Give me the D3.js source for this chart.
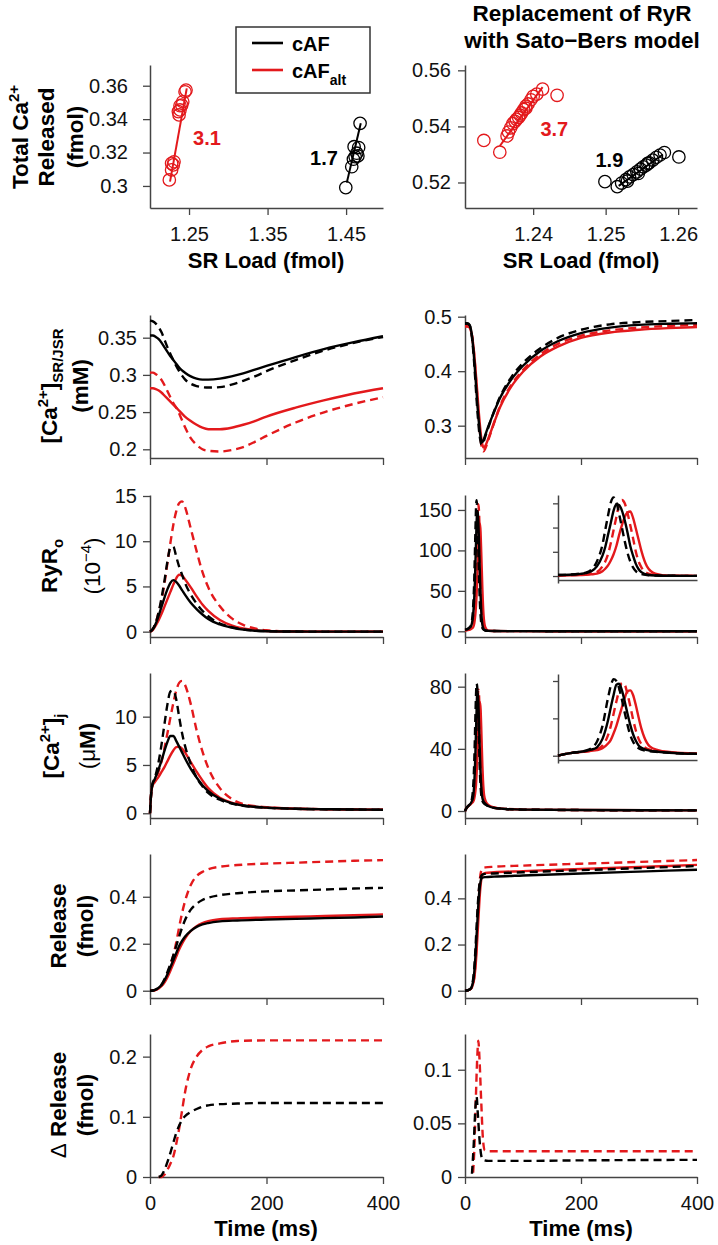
<!DOCTYPE html>
<html><head><meta charset="utf-8">
<script src="https://cdn.jsdelivr.net/npm/d3@7"></script>
<style>html,body{margin:0;padding:0;background:#fff;} svg{display:block;}</style>
</head><body>
<script>
// ---------------- DATA ----------------
// Scatter: SR load vs total Ca released
const scL_cAF_load = [1.4496, 1.4572, 1.4593, 1.4615, 1.4636, 1.4602, 1.4650, 1.4660, 1.4678];
const scL_cAF_rel  = [0.2990, 0.3115, 0.3160, 0.3175, 0.3196, 0.3235, 0.3180, 0.3230, 0.3375];
const scL_alt_load = [1.2249, 1.2278, 1.2300, 1.2309, 1.2278, 1.2364, 1.2373, 1.2385, 1.2407, 1.2420, 1.2385, 1.2449, 1.2462];
const scL_alt_rel  = [0.3036, 0.3096, 0.3126, 0.3145, 0.3135, 0.3445, 0.3425, 0.3455, 0.3484, 0.3504, 0.3480, 0.3564, 0.3574];
const scL_cAF_fitX = [1.4509, 1.4687], scL_cAF_fitY = [0.3020, 0.3375];
const scL_alt_fitX = [1.2258, 1.2471], scL_alt_fitY = [0.3026, 0.3584];
const scR_cAF_load = [1.2499,1.2516,1.2522,1.2528,1.2530,1.2533,1.2538,1.2543,1.2545,1.2548,1.2552,1.2556,1.2558,1.2560,1.2565,1.2570,1.2575,1.2581,1.2601];
const scR_cAF_rel  = [0.5203,0.5185,0.5198,0.5210,0.5205,0.5220,0.5228,0.5238,0.5232,0.5248,0.5256,0.5262,0.5268,0.5270,0.5280,0.5290,0.5298,0.5307,0.5291];
const scR_alt_load = [1.2332,1.2354,1.2364,1.2366,1.2369,1.2372,1.2375,1.2377,1.2380,1.2382,1.2384,1.2387,1.2390,1.2390,1.2393,1.2397,1.2400,1.2405,1.2413,1.2433];
const scR_alt_rel  = [0.5350,0.5308,0.5366,0.5380,0.5395,0.5410,0.5418,0.5425,0.5432,0.5440,0.5448,0.5460,0.5465,0.5472,0.5480,0.5495,0.5507,0.5515,0.5533,0.5511];
const scR_cAF_fitX = [1.2518, 1.2579], scR_cAF_fitY = [0.5188, 0.5300];
const scR_alt_fitX = [1.2354, 1.2413], scR_alt_fitY = [0.5330, 0.5540];
const gainLabels = ["3.1", "1.7", "3.7", "1.9"];

// Tick values
const timeTicks = [0, 200, 400];
const scL_xTicks = [1.25, 1.35, 1.45], scL_yTicks = [0.3, 0.32, 0.34, 0.36];
const scR_xTicks = [1.24, 1.25, 1.26], scR_yTicks = [0.52, 0.54, 0.56];

// Left column (cAF models) time grids & series
const tL = [0,5,10,15,20,25,30,35,40,45,50,55,60,70,80,90,100,120,140,160,180,200,250,300,350,400];
const srL_cAF     = [0.353,0.353,0.351,0.348,0.343,0.337,0.331,0.325,0.320,0.315,0.310,0.306,0.303,0.298,0.295,0.2937,0.2937,0.295,0.298,0.302,0.307,0.312,0.324,0.335,0.344,0.352];
const srL_cAF_d   = [0.373,0.372,0.369,0.364,0.357,0.347,0.337,0.328,0.320,0.312,0.305,0.299,0.294,0.288,0.285,0.2835,0.283,0.2835,0.287,0.292,0.298,0.305,0.320,0.333,0.343,0.351];
const srL_alt     = [0.282,0.282,0.281,0.279,0.276,0.272,0.268,0.264,0.260,0.256,0.252,0.248,0.244,0.238,0.233,0.229,0.227,0.227,0.229,0.233,0.238,0.244,0.256,0.266,0.275,0.282];
const srL_alt_d   = [0.303,0.303,0.301,0.298,0.293,0.286,0.278,0.270,0.262,0.256,0.248,0.239,0.230,0.215,0.206,0.200,0.198,0.197,0.199,0.203,0.210,0.218,0.236,0.250,0.261,0.270];
const ryL_cAF     = [0,0.3,0.9,1.8,2.8,3.8,4.7,5.4,5.7,5.5,5.1,4.6,4.1,3.2,2.5,1.9,1.4,0.8,0.45,0.22,0.1,0.05,0.01,0,0,0];
const ryL_cAF_d   = [0,0.3,1.0,2.2,3.8,5.7,7.8,9.3,9.4,8.3,7.2,6.3,5.4,4.1,3.1,2.3,1.7,0.9,0.5,0.25,0.12,0.06,0.01,0,0,0];
const ryL_alt     = [0,0.2,0.7,1.3,2.0,2.8,3.6,4.4,5.2,5.9,6.3,6.2,5.8,4.9,3.9,3.0,2.3,1.3,0.7,0.35,0.17,0.08,0.01,0,0,0];
const ryL_alt_d   = [0,0.3,1.0,2.2,3.5,5.4,7.6,9.8,11.8,13.3,14.2,14.4,13.8,11.4,8.9,6.6,4.9,2.8,1.5,0.75,0.35,0.15,0.02,0,0,0];
const tJ = [0,2,4,8,15,20,25,30,35,40,45,50,55,60,70,80,90,100,120,140,160,200,250,300,350,400];
const cjL_cAF     = [0,2.0,2.9,3.5,4.6,5.5,6.5,7.4,8.0,8.0,7.5,6.9,6.3,5.7,4.6,3.7,2.9,2.3,1.5,1.05,0.8,0.58,0.47,0.42,0.39,0.37];
const cjL_cAF_d   = [0,2.0,3.0,3.6,5.4,7.2,9.3,11.3,12.6,12.7,11.8,10.0,8.3,7.0,5.1,3.7,2.8,2.1,1.4,1.0,0.78,0.57,0.46,0.41,0.39,0.37];
const cjL_alt     = [0,2.0,2.8,3.2,3.8,4.3,4.8,5.4,6.0,6.5,6.85,6.9,6.7,6.3,5.3,4.3,3.4,2.6,1.6,1.1,0.82,0.59,0.47,0.42,0.39,0.37];
const cjL_alt_d   = [0,2.0,2.9,3.4,4.4,5.4,6.8,8.3,9.9,11.4,12.7,13.5,13.7,13.3,11.3,8.6,6.4,4.7,2.6,1.5,0.95,0.62,0.48,0.42,0.39,0.37];
const tRel = [0,5,10,15,20,25,30,35,40,45,50,55,60,70,80,90,100,120,150,200,250,300,350,400];
const relL_cAF    = [0,0.001,0.005,0.013,0.025,0.045,0.07,0.1,0.13,0.16,0.19,0.212,0.23,0.255,0.272,0.282,0.288,0.295,0.299,0.303,0.306,0.309,0.312,0.316];
const relL_cAF_d  = [0,0.001,0.005,0.013,0.027,0.05,0.08,0.113,0.15,0.19,0.23,0.268,0.3,0.345,0.37,0.386,0.396,0.407,0.415,0.423,0.427,0.431,0.435,0.438];
const relL_alt    = [0,0.001,0.004,0.01,0.02,0.036,0.058,0.085,0.115,0.145,0.175,0.2,0.222,0.254,0.275,0.288,0.296,0.304,0.308,0.312,0.315,0.318,0.321,0.325];
const relL_alt_d  = [0,0.001,0.004,0.01,0.022,0.042,0.072,0.11,0.15,0.205,0.27,0.33,0.38,0.45,0.488,0.506,0.517,0.528,0.535,0.541,0.545,0.549,0.553,0.556];
const tD = [15,20,25,30,35,40,45,50,55,60,70,80,90,100,120,150,200,250,300,350,400];
const dRelL_cAF   = [0,0.003,0.012,0.025,0.04,0.057,0.073,0.085,0.095,0.101,0.108,0.113,0.117,0.119,0.121,0.122,0.123,0.123,0.123,0.123,0.123];
const dRelL_alt   = [0,0,0.004,0.012,0.022,0.034,0.055,0.08,0.11,0.14,0.18,0.2,0.211,0.217,0.222,0.226,0.227,0.227,0.227,0.227,0.227];

// Right column (Sato-Bers RyR) time grids & series
const tS = [0,4,8,10,12,14,16,18,20,22,24,26,28,30,32,35,40,50,60,80,100,130,160,200,250,300,350,400];
const srR_cAF     = [0.488,0.488,0.485,0.478,0.465,0.445,0.42,0.39,0.36,0.33,0.305,0.285,0.272,0.27,0.274,0.283,0.298,0.325,0.35,0.385,0.41,0.437,0.455,0.47,0.48,0.485,0.487,0.488];
const srR_cAF_d   = [0.487,0.487,0.484,0.477,0.462,0.44,0.412,0.38,0.348,0.318,0.293,0.276,0.266,0.265,0.27,0.28,0.296,0.326,0.352,0.389,0.415,0.442,0.461,0.476,0.486,0.49,0.492,0.494];
const srR_alt     = [0.482,0.482,0.48,0.475,0.465,0.45,0.43,0.405,0.378,0.35,0.322,0.298,0.278,0.265,0.26,0.263,0.276,0.305,0.333,0.372,0.399,0.427,0.445,0.461,0.471,0.476,0.479,0.481];
const srR_alt_d   = [0.483,0.483,0.481,0.476,0.466,0.45,0.428,0.4,0.37,0.34,0.31,0.285,0.266,0.255,0.253,0.258,0.273,0.305,0.335,0.375,0.402,0.431,0.45,0.465,0.475,0.48,0.483,0.485];
const tP = [0,5,8,10,12,14,16,17,18,19,20,21,22,23,24,25,26,27,28,29,30,32,35,40,50,100,200,400];
const ryR_cAF     = [2,3,4.5,6,10,20,42,60,85,110,135,148,146,135,115,90,62,42,25,14,8,3,1,0.5,0.3,0.2,0.1,0.1];
const ryR_cAF_d   = [2,3,5,7,13,30,65,95,125,152,162,152,128,100,72,48,30,18,10,6,4,2,1,0.5,0.3,0.2,0.1,0.1];
const ryR_alt     = [1,1.5,2,2.5,3.5,5,10,15,22,32,45,62,85,105,122,131,133,120,98,75,52,20,5,0.8,0.3,0.2,0.1,0.1];
const ryR_alt_d   = [1,2,2.5,3,5,8,20,30,45,68,95,122,148,157,150,130,105,78,50,30,18,6,2,0.5,0.3,0.2,0.1,0.1];
const tC = [0,2,5,10,12,14,16,18,19,20,21,22,23,24,25,26,27,28,29,30,31,33,36,40,50,70,100,200,400];
const cjR_cAF     = [0,1.5,3,5,6.5,9,18,38,52,65,76,77,70,58,45,33,23,16,11,8.5,7,5.5,4.3,3.2,2.0,1.3,0.9,0.6,0.4];
const cjR_cAF_d   = [0,1.5,3,5.5,8,15,32,62,75,82,80,72,60,46,33,22,15,10.5,8,6.5,5.7,4.8,4,3.1,2.0,1.3,0.9,0.6,0.4];
const cjR_alt     = [0,1.5,3,4.5,5.2,6,8,13,17,24,32,42,52,62,69,70,65,54,41,29,20,10,6,4,2.3,1.4,0.9,0.6,0.4];
const cjR_alt_d   = [0,1.5,3,4.5,5.5,7,11,22,32,45,58,70,78,76,66,53,39,27,18,12.5,9.5,6.5,5,3.4,2.1,1.3,0.9,0.6,0.4];
const tRR = [0,5,10,12,14,16,18,20,22,24,26,28,30,35,50,100,200,300,400];
const relR_cAF    = [0,0.002,0.01,0.02,0.04,0.08,0.15,0.24,0.33,0.41,0.46,0.485,0.49,0.492,0.494,0.499,0.508,0.516,0.524];
const relR_cAF_d  = [0,0.002,0.01,0.022,0.05,0.1,0.18,0.28,0.37,0.44,0.48,0.498,0.503,0.506,0.508,0.513,0.522,0.531,0.54];
const relR_alt    = [0,0.002,0.008,0.015,0.03,0.055,0.1,0.17,0.26,0.35,0.43,0.48,0.502,0.51,0.513,0.518,0.527,0.536,0.545];
const relR_alt_d  = [0,0.002,0.008,0.016,0.032,0.06,0.12,0.21,0.33,0.43,0.49,0.52,0.53,0.534,0.537,0.542,0.55,0.558,0.566];
const tDb = [12,15,18,20,22,25,28,31,40,100,200,400];
const dRelR_cAF   = [0.003,0.03,0.065,0.075,0.06,0.035,0.02,0.016,0.015,0.015,0.0155,0.016];
const tDr = [14,16,18,21,23,25,28,31,34,40,100,200,400];
const dRelR_alt   = [0.004,0.025,0.06,0.11,0.127,0.11,0.07,0.035,0.025,0.024,0.024,0.024,0.024];

// ---------------- DRAWING ----------------
const FONT = "'Liberation Sans', Arial, Helvetica, sans-serif";
const RED = "#e3191c", BLK = "#000000", AX = "#444444";
const svg = d3.select('body').append('svg').attr('width', 718).attr('height', 1245).style('background', '#fff');

const LX = [150, 383], RX = [465, 697];

function drawAxes(x, y, o) {
  const g = svg.append('g');
  const ya = g.append('g').attr('transform', `translate(${x.range()[0]},0)`)
    .call(d3.axisLeft(y).tickValues(o.yTicks).tickSize(o.ts || 7).tickSizeOuter(0)
      .tickPadding(o.yPad ?? 6).tickFormat(o.noYLabels ? () => '' : d => String(d)));
  const xa = g.append('g').attr('transform', `translate(0,${o.xAxisY ?? y.range()[0]})`)
    .call(d3.axisBottom(x).tickValues(o.xTicks || []).tickSize(7).tickSizeOuter(0)
      .tickPadding(12).tickFormat(o.xLabels ? d => String(d) : () => ''));
  [ya, xa].forEach(a => {
    a.attr('font-size', 20).attr('font-family', FONT);
    a.select('.domain').attr('stroke', AX).attr('stroke-width', 1.5);
    a.selectAll('.tick line').attr('stroke', AX).attr('stroke-width', 1.3);
    a.selectAll('.tick text').attr('fill', '#111');
  });
  return g;
}

function drawCurve(x, y, ts, vs, color, dashed, maxT) {
  let pts = d3.zip(ts, vs);
  if (maxT !== undefined) pts = pts.filter(p => p[0] <= maxT);
  svg.append('path').datum(pts)
    .attr('fill', 'none').attr('stroke', color).attr('stroke-width', 2.4)
    .attr('stroke-dasharray', dashed ? '8,5' : null)
    .attr('stroke-linejoin', 'round')
    .attr('d', d3.line().curve(d3.curveMonotoneX).x(p => x(p[0])).y(p => y(p[1])));
}

function rotLabel(bx, cy, parts) {
  const t = svg.append('text').attr('transform', `translate(${bx},${cy}) rotate(-90)`)
    .attr('text-anchor', 'middle').attr('font-family', FONT).attr('font-weight', 'bold')
    .attr('font-size', 22.5).attr('fill', '#000');
  parts.forEach(p => {
    const s = t.append('tspan').text(p.t);
    if (p.size) s.attr('font-size', p.size);
    if (p.dy) s.attr('dy', p.dy);
    if (p.w) s.attr('font-weight', p.w);
  });
}

// ---- Scatter panels ----
const scY = [65, 208];
const sxL = d3.scaleLinear([1.2003, 1.497], LX);
const syL = d3.scaleLinear([0.2868, 0.3724], [scY[1], scY[0]]);
drawAxes(sxL, syL, {xTicks: scL_xTicks, yTicks: scL_yTicks, xLabels: true, yPad: 15});
const sxR = d3.scaleLinear([1.2306, 1.2626], RX);
const syR = d3.scaleLinear([0.5109, 0.5619], [scY[1], scY[0]]);
drawAxes(sxR, syR, {xTicks: scR_xTicks, yTicks: scR_yTicks, xLabels: true, yPad: 7});

function scatter(x, y, xs, ys, fx, fy, color) {
  svg.append('line').attr('x1', x(fx[0])).attr('y1', y(fy[0])).attr('x2', x(fx[1])).attr('y2', y(fy[1]))
    .attr('stroke', color).attr('stroke-width', 2);
  svg.append('g').selectAll('circle').data(d3.zip(xs, ys)).join('circle')
    .attr('cx', d => x(d[0])).attr('cy', d => y(d[1])).attr('r', 6.2)
    .attr('fill', 'none').attr('stroke', color).attr('stroke-width', 1.3);
}
scatter(sxL, syL, scL_alt_load, scL_alt_rel, scL_alt_fitX, scL_alt_fitY, RED);
scatter(sxL, syL, scL_cAF_load, scL_cAF_rel, scL_cAF_fitX, scL_cAF_fitY, BLK);
scatter(sxR, syR, scR_alt_load, scR_alt_rel, scR_alt_fitX, scR_alt_fitY, RED);
scatter(sxR, syR, scR_cAF_load, scR_cAF_rel, scR_cAF_fitX, scR_cAF_fitY, BLK);

function gainText(x, y, vx, vy, txt, color) {
  svg.append('text').attr('x', x(vx)).attr('y', y(vy)).text(txt)
    .attr('font-family', FONT).attr('font-weight', 'bold').attr('font-size', 20).attr('fill', color);
}
gainText(sxL, syL, 1.2551, 0.3245, gainLabels[0], RED);
gainText(sxL, syL, 1.4041, 0.3126, gainLabels[1], BLK);
gainText(sxR, syR, 1.2410, 0.5366, gainLabels[2], RED);
gainText(sxR, syR, 1.2486, 0.5254, gainLabels[3], BLK);

// x titles for scatter
[[266, 'SR Load (fmol)'], [581, 'SR Load (fmol)']].forEach(([cx, s]) => {
  svg.append('text').attr('x', cx).attr('y', 268).attr('text-anchor', 'middle').text(s)
    .attr('font-family', FONT).attr('font-weight', 'bold').attr('font-size', 22);
});
// Title
[['Replacement of RyR', 21], ['with Sato\u2212Bers model', 48]].forEach(([s, yy]) => {
  svg.append('text').attr('x', 582).attr('y', yy).attr('text-anchor', 'middle').text(s)
    .attr('font-family', FONT).attr('font-weight', 'bold').attr('font-size', 22.5);
});
// Legend
const lg = svg.append('g');
lg.append('rect').attr('x', 236).attr('y', 27).attr('width', 134).attr('height', 66)
  .attr('fill', '#fff').attr('stroke', '#333').attr('stroke-width', 1.5);
[[43, BLK], [70, RED]].forEach(([yy, c]) => lg.append('line').attr('x1', 252).attr('x2', 283)
  .attr('y1', yy).attr('y2', yy).attr('stroke', c).attr('stroke-width', 2.6));
lg.append('text').attr('x', 292).attr('y', 51).text('cAF').attr('font-family', FONT)
  .attr('font-weight', 'bold').attr('font-size', 20);
const lt = lg.append('text').attr('x', 292).attr('y', 78).attr('font-family', FONT)
  .attr('font-weight', 'bold').attr('font-size', 20);
lt.append('tspan').text('cAF');
lt.append('tspan').text('alt').attr('font-size', 14).attr('dy', 7);

// ---- Time-course rows ----
const xL = d3.scaleLinear([0, 400], LX);
const xR = d3.scaleLinear([0, 400], RX);
const rows = [
  {y0: 315, y1: 458, dL: [0.1883, 0.3805], dR: [0.2407, 0.5031], tkL: [0.2, 0.25, 0.3, 0.35], tkR: [0.3, 0.4, 0.5]},
  {y0: 495, y1: 637, dL: [-0.59, 15.11], dR: [-7.05, 168.5], tkL: [0, 5, 10, 15], tkR: [0, 50, 100, 150]},
  {y0: 673, y1: 818, dL: [-0.49, 14.52], dR: [-4.5, 88.8], tkL: [0, 5, 10], tkR: [0, 40, 80]},
  {y0: 854, y1: 998, dL: [-0.031, 0.582], dR: [-0.0316, 0.5922], tkL: [0, 0.2, 0.4], tkR: [0, 0.2, 0.4]},
  {y0: 1034, y1: 1177, dL: [0, 0.2376], dR: [0, 0.1333], tkL: [0, 0.1, 0.2], tkR: [0, 0.05, 0.1]}
];
const ys = rows.map(r => ({
  L: d3.scaleLinear(r.dL, [r.y1, r.y0]),
  R: d3.scaleLinear(r.dR, [r.y1, r.y0])
}));
rows.forEach((r, i) => {
  const last = i === rows.length - 1;
  drawAxes(xL, ys[i].L, {xTicks: timeTicks, yTicks: r.tkL, xLabels: last});
  drawAxes(xR, ys[i].R, {xTicks: timeTicks, yTicks: r.tkR, xLabels: last});
});

function four(x, y, t, aD, aS, cD, cS, maxT) {
  drawCurve(x, y, t, aD, RED, true, maxT);
  drawCurve(x, y, t, aS, RED, false, maxT);
  drawCurve(x, y, t, cD, BLK, true, maxT);
  drawCurve(x, y, t, cS, BLK, false, maxT);
}
four(xL, ys[0].L, tL, srL_alt_d, srL_alt, srL_cAF_d, srL_cAF);
four(xR, ys[0].R, tS, srR_alt_d, srR_alt, srR_cAF_d, srR_cAF);
four(xL, ys[1].L, tL, ryL_alt_d, ryL_alt, ryL_cAF_d, ryL_cAF);
four(xR, ys[1].R, tP, ryR_alt_d, ryR_alt, ryR_cAF_d, ryR_cAF);
four(xL, ys[2].L, tJ, cjL_alt_d, cjL_alt, cjL_cAF_d, cjL_cAF);
four(xR, ys[2].R, tC, cjR_alt_d, cjR_alt, cjR_cAF_d, cjR_cAF);
four(xL, ys[3].L, tRel, relL_alt_d, relL_alt, relL_cAF_d, relL_cAF);
four(xR, ys[3].R, tRR, relR_alt_d, relR_alt, relR_cAF_d, relR_cAF);
drawCurve(xL, ys[4].L, tD, dRelL_alt, RED, true);
drawCurve(xL, ys[4].L, tD, dRelL_cAF, BLK, true);
drawCurve(xR, ys[4].R, tDr, dRelR_alt, RED, true);
drawCurve(xR, ys[4].R, tDb, dRelR_cAF, BLK, true);

// ---- Insets (0-50 ms zoom of peaks) ----
const ixs = d3.scaleLinear([0, 50], [558, 697]);
const iy3 = d3.scaleLinear([-14.4, 167.2], [583, 495]);
drawAxes(ixs, iy3, {xTicks: [], yTicks: [0, 50, 100, 150], noYLabels: true, ts: 5, xAxisY: 580});
four(ixs, iy3, tP, ryR_alt_d, ryR_alt, ryR_cAF_d, ryR_cAF, 50);
const iy4 = d3.scaleLinear([-7.8, 87.5], [763, 674]);
drawAxes(ixs, iy4, {xTicks: [], yTicks: [0, 40, 80], noYLabels: true, ts: 5, xAxisY: 760});
four(ixs, iy4, tC, cjR_alt_d, cjR_alt, cjR_cAF_d, cjR_cAF, 50);

// ---- Axis titles ----
rotLabel(28, 137, [{t: 'Total Ca'}, {t: '2+', size: 15, dy: -9}]);
rotLabel(54, 137, [{t: 'Released'}]);
rotLabel(83, 137, [{t: '(fmol)'}]);
rotLabel(57, 386, [{t: '[Ca'}, {t: '2+', size: 15, dy: -9}, {t: ']', dy: 9}, {t: 'SR/JSR', size: 15, dy: 6}]);
rotLabel(88, 386, [{t: '(mM)'}]);
rotLabel(57, 566, [{t: 'RyR'}, {t: 'o', size: 15, dy: 6}]);
rotLabel(100, 566, [{t: '(10', w: 'normal'}, {t: '\u22124', size: 15, dy: -9, w: 'normal'}, {t: ')', dy: 9, w: 'normal'}]);
rotLabel(59, 746, [{t: '[Ca'}, {t: '2+', size: 15, dy: -9}, {t: ']', dy: 9}, {t: 'j', size: 15, dy: 6}]);
rotLabel(95, 746, [{t: '(', w: 'normal'}, {t: '\u03bc', w: 'normal'}, {t: 'M)'}]);
rotLabel(66, 926, [{t: 'Release'}]);
rotLabel(93, 926, [{t: '(fmol)'}]);
rotLabel(66, 1105, [{t: '\u0394', w: 'normal'}, {t: ' Release'}]);
rotLabel(93, 1105, [{t: '(fmol)'}]);

[[266, 'Time (ms)'], [581, 'Time (ms)']].forEach(([cx, s]) => {
  svg.append('text').attr('x', cx).attr('y', 1236).attr('text-anchor', 'middle').text(s)
    .attr('font-family', FONT).attr('font-weight', 'bold').attr('font-size', 22);
});
</script>
</body></html>
